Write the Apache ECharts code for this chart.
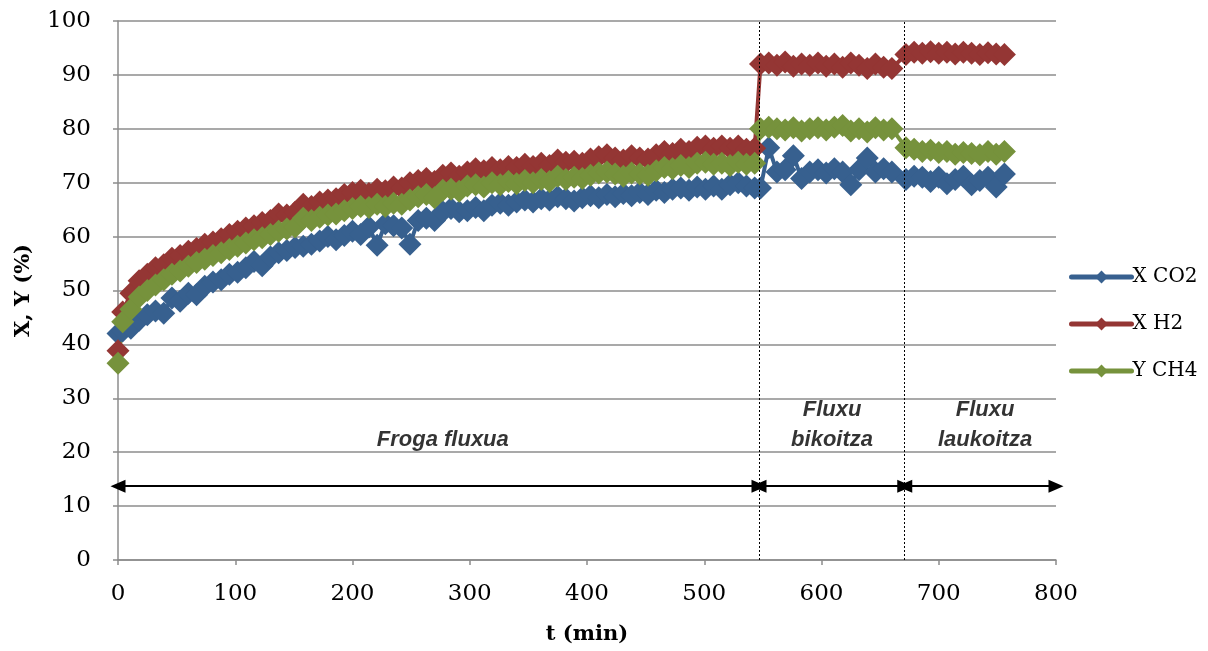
<!DOCTYPE html>
<html>
<head>
<meta charset="utf-8">
<script src="https://cdn.jsdelivr.net/npm/echarts@6/dist/echarts.min.js"></script>
<style>
  html, body { margin: 0; padding: 0; background: #ffffff; }
  #chart { width: 1208px; height: 651px; }
</style>
</head>
<body>
<div id="chart"></div>
<script>
// Sampling times (min): single flow, double flow, quadruple flow
const timesSingle = [0, 4, 11, 18, 25, 32, 39, 46, 53, 60, 67, 74, 81, 88, 95, 102, 109, 116, 123, 130,
  137, 144, 151, 158, 165, 172, 179, 186, 193, 200, 207, 214, 221, 228, 235, 242, 249, 256, 263, 270,
  277, 284, 291, 298, 305, 312, 319, 326, 333, 340, 347, 354, 361, 368, 375, 382, 389, 396, 403, 410,
  417, 424, 431, 438, 445, 452, 459, 466, 473, 480, 487, 494, 501, 508, 515, 522, 529, 536, 543];
const timesDouble = [548, 555, 562, 569, 576, 583, 590, 597, 604, 611, 618, 625, 632, 639, 646, 653, 660];
const timesQuad = [672, 679, 686, 693, 700, 707, 714, 721, 728, 735, 742, 749, 756];

// X CO2 (%)
const co2Single = [42.0, 42.5, 43.0, 44.5, 45.5, 46.2, 45.8, 48.6, 48.0, 49.5, 49.2, 50.8, 51.6, 52.0, 53.0, 53.4, 54.2, 55.4, 54.6, 56.2,
  57.0, 57.4, 58.0, 58.2, 58.6, 59.2, 60.0, 59.4, 60.2, 61.0, 60.4, 61.8, 58.4, 62.4, 62.0, 61.6, 58.6, 63.0, 63.4, 63.0,
  64.6, 65.2, 64.6, 64.8, 65.4, 64.8, 65.8, 66.2, 65.8, 66.4, 66.8, 66.4, 67.0, 66.8, 67.4, 67.0, 66.6, 67.2, 67.6, 67.2,
  67.8, 67.4, 68.0, 67.6, 68.2, 67.8, 68.6, 68.2, 68.8, 69.0, 68.6, 69.2, 68.8, 69.4, 68.8, 69.6, 70.0, 69.4, 69.0];
const co2Double = [69.0, 76.5, 72.0, 72.4, 75.0, 70.8, 72.0, 72.4, 71.8, 72.6, 72.0, 69.6, 72.4, 74.6, 72.0, 72.6, 72.0];
const co2Quad = [70.6, 71.2, 71.0, 70.2, 71.0, 69.8, 70.6, 71.2, 69.6, 70.4, 71.0, 69.2, 71.6];

// X H2 (%)
const h2Single = [38.8, 46.0, 49.5, 51.8, 53.0, 54.2, 54.8, 56.0, 56.5, 57.3, 57.8, 58.6, 59.0, 59.6, 60.4, 61.0, 61.6, 62.0, 62.6, 63.0,
  64.2, 64.0, 64.5, 66.0, 65.6, 66.4, 66.8, 67.0, 67.8, 68.2, 68.6, 68.0, 68.8, 68.5, 69.2, 69.0, 70.0, 70.4, 70.8, 70.2,
  71.4, 71.8, 71.2, 72.0, 72.6, 72.2, 72.8, 72.4, 73.0, 72.8, 73.4, 73.0, 73.6, 73.2, 74.2, 73.8, 74.0, 73.6, 74.4, 74.8,
  75.2, 74.6, 74.2, 75.0, 74.6, 74.4, 75.2, 75.8, 75.4, 76.2, 75.8, 76.6, 76.8, 76.4, 76.8, 76.4, 76.8, 76.2, 76.4];
const h2Double = [92.0, 92.2, 91.8, 92.4, 91.6, 92.0, 91.8, 92.2, 91.6, 92.0, 91.4, 92.2, 91.8, 91.2, 92.0, 91.4, 91.2];
const h2Quad = [93.8, 94.2, 94.0, 94.3, 94.0, 94.2, 93.9, 94.2, 94.0, 93.8, 94.1, 93.9, 93.8];

// Y CH4 (%)
const ch4Single = [36.5, 44.2, 46.5, 48.8, 50.0, 51.0, 52.0, 53.0, 53.6, 54.5, 55.2, 55.8, 56.5, 57.0, 57.6, 58.2, 58.8, 59.4, 59.8, 60.4,
  61.0, 61.4, 61.8, 63.4, 63.0, 63.6, 64.0, 64.2, 64.8, 65.2, 65.6, 65.4, 66.0, 65.6, 66.2, 66.0, 66.8, 67.4, 67.8, 67.2,
  68.6, 68.8, 68.4, 69.4, 69.6, 69.2, 70.0, 69.6, 70.2, 69.8, 70.4, 70.0, 70.6, 70.2, 71.2, 70.6, 71.0, 70.8, 71.4, 71.8,
  72.0, 71.6, 71.2, 71.8, 71.6, 71.4, 72.2, 72.8, 72.6, 73.2, 72.8, 73.6, 73.8, 73.4, 73.6, 73.2, 73.8, 73.4, 73.6];
const ch4Double = [80.0, 80.3, 80.0, 79.8, 80.2, 79.6, 80.0, 80.2, 79.8, 80.3, 80.6, 79.6, 80.0, 79.4, 80.2, 79.8, 80.0];
const ch4Quad = [76.5, 76.2, 75.8, 76.0, 75.6, 75.8, 75.3, 75.6, 75.4, 75.2, 75.8, 75.3, 75.8];

// Flow regime boundaries (min) and the arrow band level (%)
const regimeBounds = [0, 546.7, 671, 800];
const arrowLevel = 13.7;
const regimeNames = ['Froga fluxua', 'Fluxu\nbikoitza', 'Fluxu\nlaukoitza'];
const regimeLabelX = [277, 609, 739.5];
const regimeLabelY = [22.3, 25.0, 25.0];

const seriesNames = ['X CO2', 'X H2', 'Y CH4'];
const colors = ['#37608f', '#943634', '#76923c'];

function pairs(t, v) {
  return t.map((x, i) => [x, v[i]]);
}
const allTimes = timesSingle.concat(timesDouble, timesQuad);
const co2 = pairs(allTimes, co2Single.concat(co2Double, co2Quad));
const h2 = pairs(allTimes, h2Single.concat(h2Double, h2Quad));
const ch4 = pairs(allTimes, ch4Single.concat(ch4Double, ch4Quad));

function dataSeries(name, data, color) {
  return {
    name: name,
    type: 'line',
    data: data,
    symbol: 'diamond',
    symbolSize: 23,
    showAllSymbol: true,
    lineStyle: { color: color, width: 4 },
    itemStyle: { color: color, borderColor: color, borderWidth: 0 },
    emphasis: { disabled: true },
    animation: false,
    z: 2
  };
}

const serif = '"DejaVu Serif", "Liberation Serif", serif';

const option = {
  animation: false,
  backgroundColor: '#ffffff',
  grid: { left: 118, right: 152, top: 21, bottom: 91, containLabel: false },
  xAxis: {
    type: 'value',
    min: 0, max: 800, interval: 100,
    name: 't (min)',
    nameLocation: 'middle',
    nameGap: 64,
    nameTextStyle: { fontFamily: serif, fontWeight: 'bold', fontSize: 21, color: '#000' },
    axisLine: { show: true, lineStyle: { color: '#8c8c8c', width: 1.5 } },
    axisTick: { show: true, length: 5, lineStyle: { color: '#8c8c8c', width: 1.5 } },
    axisLabel: { fontFamily: serif, fontSize: 23, color: '#000', margin: 23 },
    splitLine: { show: false }
  },
  yAxis: {
    type: 'value',
    min: 0, max: 100, interval: 10,
    name: 'X, Y (%)',
    nameLocation: 'middle',
    nameGap: 84,
    nameRotate: 90,
    nameTextStyle: { fontFamily: serif, fontWeight: 'bold', fontSize: 21, color: '#000' },
    axisLine: { show: true, lineStyle: { color: '#8c8c8c', width: 1.5 } },
    axisTick: { show: true, length: 5, lineStyle: { color: '#8c8c8c', width: 1.5 } },
    axisLabel: { fontFamily: serif, fontSize: 23, color: '#000', margin: 27 },
    splitLine: { show: true, lineStyle: { color: '#8c8c8c', width: 1.5 } }
  },
  legend: {
    orient: 'vertical',
    left: 1064,
    top: 262,
    itemWidth: 60,
    itemHeight: 16,
    itemGap: 27,
    data: seriesNames,
    lineStyle: { width: 5, cap: 'round' },
    textStyle: { fontFamily: serif, fontSize: 20, color: '#000', padding: [0, 0, 0, -4] }
  },
  series: [
    dataSeries(seriesNames[0], co2, colors[0]),
    dataSeries(seriesNames[1], h2, colors[1]),
    dataSeries(seriesNames[2], ch4, colors[2]),
    {
      name: 'regime-dividers',
      type: 'line',
      data: [],
      z: 5,
      markLine: {
        silent: true,
        symbol: ['none', 'none'],
        label: { show: false },
        lineStyle: { color: '#000', type: [2, 2], width: 1 },
        data: [
          [{ coord: [regimeBounds[1], 0] }, { coord: [regimeBounds[1], 100] }],
          [{ coord: [regimeBounds[2], 0] }, { coord: [regimeBounds[2], 100] }]
        ]
      }
    },
    {
      name: 'regime-arrows',
      type: 'line',
      data: [],
      z: 5,
      markLine: {
        silent: true,
        symbol: ['triangle', 'triangle'],
        symbolSize: [13, 15],
        label: { show: false },
        lineStyle: { color: '#000', type: 'solid', width: 2 },
        data: [0, 1, 2].map(i => [
          { coord: [regimeBounds[i], arrowLevel] },
          { coord: [regimeBounds[i + 1], arrowLevel] }
        ])
      }
    },
    {
      name: 'regime-labels',
      type: 'scatter',
      z: 6,
      symbolSize: 1,
      itemStyle: { color: 'rgba(0,0,0,0)' },
      silent: true,
      data: regimeNames.map((n, i) => ({ name: n, value: [regimeLabelX[i], regimeLabelY[i]] })),
      label: {
        show: true,
        position: 'inside',
        formatter: p => p.name,
        fontFamily: '"Liberation Sans", Arial, sans-serif',
        fontStyle: 'italic',
        fontWeight: 'bold',
        fontSize: 22,
        lineHeight: 30,
        color: '#000',
        align: 'center',
        verticalAlign: 'middle'
      }
    }
  ]
};

const chart = echarts.init(document.getElementById('chart'), null, { renderer: 'canvas' });
chart.setOption(option);
</script>
</body>
</html>
